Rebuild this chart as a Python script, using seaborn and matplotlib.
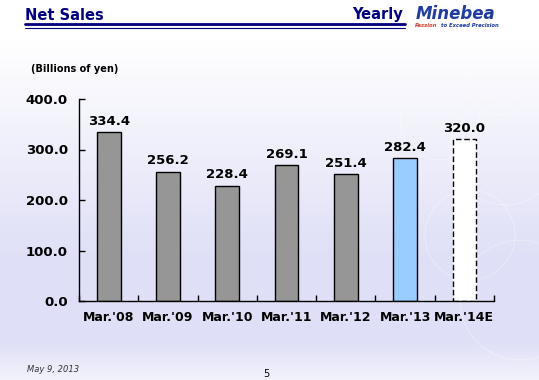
import numpy as np
import matplotlib.pyplot as plt
import seaborn as sns
from matplotlib.patches import Circle

# data
categories = ["Mar.'08", "Mar.'09", "Mar.'10", "Mar.'11", "Mar.'12", "Mar.'13", "Mar.'14E"]
net_sales = [334.4, 256.2, 228.4, 269.1, 251.4, 282.4, 320.0]
bar_colors = ["#969696", "#969696", "#969696", "#969696", "#969696", "#99CCFF", "#FFFFFF"]
y_ticks = [0, 100, 200, 300, 400]

sns.set_theme(style="white")
plt.rcParams['font.family'] = ['DejaVu Sans']
plt.rcParams['text.color'] = 'black'
plt.rcParams['xtick.color'] = 'black'
plt.rcParams['ytick.color'] = 'black'

fig = plt.figure(figsize=(5.39, 3.8), dpi=100)

# background gradient
bg = fig.add_axes([0, 0, 1, 1], zorder=-10)
grad = np.concatenate([np.zeros(40), np.linspace(0, 1, 220), np.ones(80), np.linspace(1, 0.4, 40)])
r = 1 - grad * (1 - 0xDF / 255)
g = 1 - grad * (1 - 0xDF / 255)
b = 1 - grad * (1 - 0xF7 / 255)
img = np.stack([r, g, b], axis=1)[:, None, :]
bg.imshow(img, aspect='auto', extent=[0, 539, 380, 0])
for cx, cy, rad in [(505, 150, 55), (470, 235, 45), (520, 300, 60), (440, 120, 40), (500, 80, 35)]:
    bg.add_patch(Circle((cx, cy), rad, fill=False, ec="white", lw=0.7, alpha=0.35))
bg.set_xlim(0, 539)
bg.set_ylim(380, 0)
bg.axis('off')

# header
fig.text(25 / 539, 1 - 15 / 380, "Net Sales", color="#000080", fontsize=10.5, fontweight='bold', va='center', ha='left')
fig.text(403 / 539, 1 - 15 / 380, "Yearly", color="#000080", fontsize=10.5, fontweight='bold', va='center', ha='right')
fig.add_artist(plt.Line2D([25 / 539, 405 / 539], [1 - 24 / 380] * 2, color="#000080", lw=2))
fig.add_artist(plt.Line2D([25 / 539, 405 / 539], [1 - 27.5 / 380] * 2, color="#000080", lw=0.8))
fig.text(456 / 539, 1 - 14 / 380, "Minebea", color="#1F3C9E", fontsize=12, fontweight='bold', style='italic', va='center', ha='center')
fig.text(415 / 539, 1 - 25.5 / 380, "Passion", color="#D0402A", fontsize=3.8, fontweight='bold', style='italic', va='center', ha='left')
fig.text(441 / 539, 1 - 25.5 / 380, "to Exceed Precision", color="#1F3C9E", fontsize=3.8, fontweight='bold', style='italic', va='center', ha='left')

fig.text(31 / 539, 1 - 69 / 380, "(Billions of yen)", fontsize=7, fontweight='bold', va='center', ha='left')

# footer
fig.text(27 / 539, 1 - 370 / 380, "May 9, 2013", fontsize=6, style='italic', va='center', ha='left', color="#333333")
fig.text(266 / 539, 1 - 374 / 380, "5", fontsize=7, va='center', ha='center')

# chart
ax = fig.add_axes([79 / 539, 1 - 301 / 380, 415 / 539, 202 / 380])
ax.patch.set_alpha(0)
sns.barplot(x=categories, y=net_sales, hue=categories, palette=bar_colors, width=0.4,
            edgecolor="black", linewidth=1, saturation=1, legend=False, ax=ax)
ax.patches[-1].set_linestyle((0, (4, 2)))

for c in ax.containers:
    ax.bar_label(c, fmt='%.1f', padding=3, fontsize=9.5, fontweight='bold', color='black')

ax.set_ylim(0, 400)
ax.set_xlim(-0.5, len(categories) - 0.5)
ax.set_yticks(y_ticks)
ax.set_yticklabels([f"{v:.1f}" for v in y_ticks], fontsize=9.5, fontweight='bold')
ax.set_xticks(range(len(categories)))
ax.set_xticklabels(categories, fontsize=9, fontweight='bold')
ax.tick_params(axis='x', length=0, pad=7, labelcolor='black')
ax.set_xticks(np.arange(-0.5, len(categories)), minor=True)
ax.tick_params(axis='x', which='minor', direction='in', length=4, width=1, color='black', bottom=True)
ax.tick_params(axis='y', direction='in', length=4, width=1, color='black', left=True, pad=8, labelcolor='black')
for s in ['top', 'right']:
    ax.spines[s].set_visible(False)
for s in ['left', 'bottom']:
    ax.spines[s].set_color('black')
    ax.spines[s].set_linewidth(1)
ax.set_xlabel("")
ax.set_ylabel("")

fig.savefig("out.png", dpi=100)
